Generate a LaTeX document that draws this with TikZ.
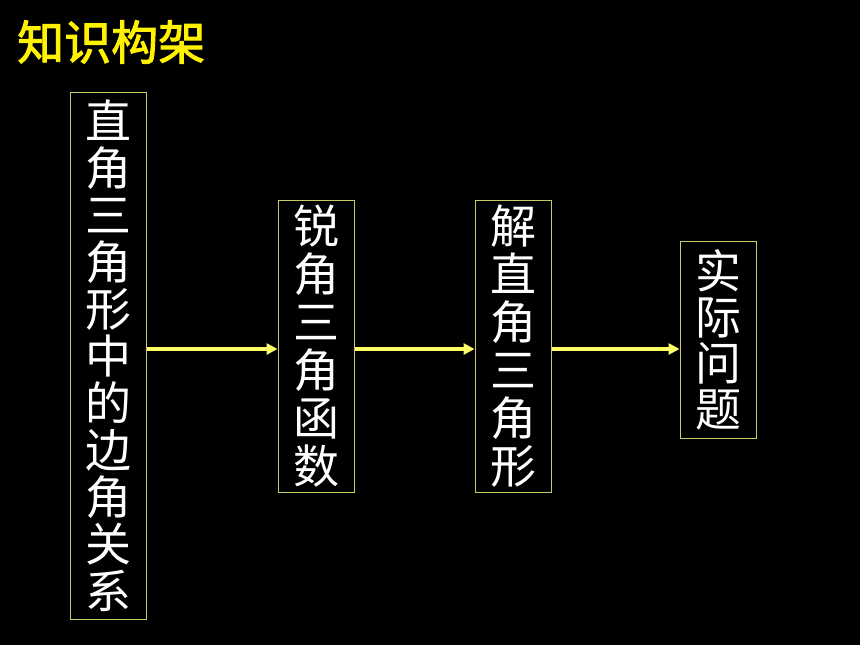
\documentclass[tikz,border=0pt]{standalone}
\usepackage{fontspec}
\usepackage{xcolor}
\usepackage{tikz}
\usetikzlibrary{arrows.meta}
\newfontfamily\cjk{Noto Sans CJK SC}
\newfontfamily\cjkbold[FakeBold=2]{Noto Sans CJK SC}
\definecolor{boxline}{HTML}{C8C864}
\definecolor{arrowyel}{HTML}{FFFF66}
\tikzset{
  box/.style={draw=boxline, line width=1pt, minimum width=76pt, inner sep=0pt,
    text=white, align=center, font=\cjk\fontsize{46}{47}\selectfont},
  link/.style={arrowyel, line width=3.5pt, -{Triangle[length=11pt,width=11pt]}}
}
\begin{document}
\begin{tikzpicture}[x=1pt, y=-1pt]
         \useasboundingbox[fill=black] (0,0) rectangle (860,645);
         % Title
         \node [anchor=west, text=yellow, font=\cjkbold\fontsize{47}{47}\selectfont, inner sep=0pt] (title) at (17,42) {知识构架};
         % Boxes
         \node [box, minimum height=527pt] (rel) at (108,355.5)
           {直\\角\\三\\角\\形\\中\\的\\边\\角\\关\\系};
         \node [box, minimum height=292pt, font=\cjk\fontsize{46}{48}\selectfont] (func) at (316,346)
           {锐\\角\\三\\角\\函\\数};
         \node [box, minimum height=292pt, font=\cjk\fontsize{46}{48}\selectfont] (solve) at (513,346)
           {解\\直\\角\\三\\角\\形};
         \node [box, minimum height=197pt, font=\cjk\fontsize{46}{46}\selectfont] (prob) at (718,339.5)
           {实\\际\\问\\题};
         % Arrows
         \coordinate (a1) at (rel.east |- 0,349);
         \coordinate (b1) at (func.west |- 0,349);
         \coordinate (a2) at (func.east |- 0,349);
         \coordinate (b2) at (solve.west |- 0,349);
         \coordinate (a3) at (solve.east |- 0,349);
         \coordinate (b3) at (prob.west |- 0,349);
         \foreach \s/\t in {a1/b1, a2/b2, a3/b3} \draw [link] (\s) -- (\t);
     \end{tikzpicture}
\end{document}
